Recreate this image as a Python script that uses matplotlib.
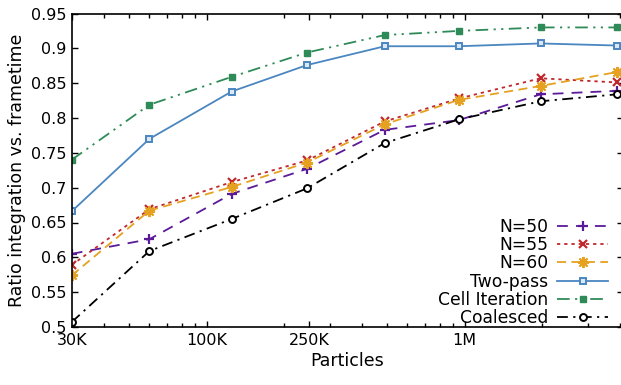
import matplotlib
matplotlib.use("Agg")
import matplotlib.pyplot as plt
from matplotlib.ticker import FixedLocator, NullFormatter

particles = [30000, 60000, 125000, 245000, 490000, 950000, 1970000, 3900000]

n50 = [0.605, 0.626, 0.691, 0.727, 0.783, 0.797, 0.834, 0.839]
n55 = [0.589, 0.669, 0.708, 0.739, 0.795, 0.828, 0.857, 0.851]
n60 = [0.574, 0.667, 0.701, 0.736, 0.791, 0.826, 0.846, 0.866]
two_pass = [0.666, 0.770, 0.838, 0.876, 0.903, 0.903, 0.907, 0.904]
cell_iter = [0.740, 0.819, 0.859, 0.894, 0.919, 0.925, 0.930, 0.930]
coalesced = [0.507, 0.609, 0.655, 0.699, 0.764, 0.798, 0.824, 0.834]

xtick_vals = [30000, 100000, 250000, 1000000]
xtick_labels = ["30K", "100K", "250K", "1M"]
yticks = [0.5, 0.55, 0.6, 0.65, 0.7, 0.75, 0.8, 0.85, 0.9, 0.95]
ytick_labels = ["0.5", "0.55", "0.6", "0.65", "0.7", "0.75", "0.8", "0.85", "0.9", "0.95"]

plt.rcParams['font.family'] = ['DejaVu Sans']
fig = plt.figure(figsize=(6.21, 3.85), dpi=100)
ax = fig.add_axes([71.7 / 621, (385 - 327) / 385, (623 - 71.7) / 621, (327 - 13.5) / 385])

lw = 1.3
ax.plot(particles, n50, color='#5b1a98', lw=lw, dashes=(6, 4.5), marker='+', ms=7, mew=1.6, label='N=50')
ax.plot(particles, n55, color='#c0282d', lw=lw, dashes=(1.8, 2.2), marker='x', ms=6, mew=1.6, label='N=55')
ax.plot(particles, n60, color='#e5a11f', lw=lw, dashes=(5, 3), marker=(8, 2, 0), ms=8, mew=1.4, label='N=60')
ax.plot(particles, two_pass, color='#4a86c0', lw=lw, ls='-', marker='s', ms=5, mfc='#dce8f5', mec='#4a86c0', mew=1.4, label='Two-pass')
ax.plot(particles, cell_iter, color='#2e8b57', lw=lw, dashes=(7, 3, 1.2, 3, 1.2, 3), marker='s', ms=5, label='Cell Iteration')
ax.plot(particles, coalesced, color='black', lw=lw, dashes=(6, 3, 1.2, 3), marker='o', ms=5, mfc='white', mew=1.4, label='Coalesced')

ax.set_xscale('log')
ax.set_xlim(30000, 4.11e6)
ax.set_ylim(0.5, 0.95)

ax.xaxis.set_major_locator(FixedLocator(xtick_vals))
ax.set_xticklabels(xtick_labels)
minor = [m * 10 ** e for e in range(4, 7) for m in range(2, 10)]
minor = [v for v in minor if v not in xtick_vals]
ax.xaxis.set_minor_locator(FixedLocator(minor))
ax.xaxis.set_minor_formatter(NullFormatter())
ax.set_yticks(yticks)
ax.set_yticklabels(ytick_labels)

ax.tick_params(which='both', direction='in', top=True, right=True, labelsize=11.5, width=1, colors='black')
ax.tick_params(which='major', length=4.5, pad=4)
ax.tick_params(which='minor', length=3)
for s in ax.spines.values():
    s.set_linewidth(1.2)

ax.set_xlabel('Particles', fontsize=12.5, labelpad=3)
ax.set_ylabel('Ratio integration vs. frametime', fontsize=12.5, labelpad=3)

leg = ax.legend(loc='lower right', bbox_to_anchor=(0.995, -0.038), frameon=False, markerfirst=False,
                fontsize=12.3, handlelength=3.0, handletextpad=0.5, labelspacing=0.01,
                borderaxespad=0.3, numpoints=1)

fig.savefig('out.png', dpi=100)
